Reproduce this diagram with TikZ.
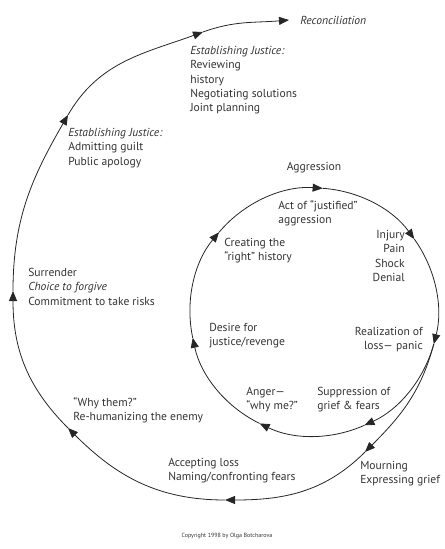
\documentclass[tikz,border=0pt]{standalone}
\usepackage{fontspec}
\setmainfont{PT Sans}
\usetikzlibrary{arrows.meta,positioning}
\tikzset{flow/.style={line width=0.6pt,draw=black!85,-{Triangle[length=7.5pt,width=6pt]}}}
\tikzset{lbl/.style={anchor=north west,inner sep=0pt,align=left,text=black!80,font=\fontsize{8.7}{10.7}\selectfont}}

\begin{document}
\begin{tikzpicture}[x=0.75pt,y=0.75pt]
\useasboundingbox (0,0) rectangle (444,-549);
% inner cycle
\coordinate (i1) at ([shift={(314,-312)}]86:124);
\coordinate (i2) at ([shift={(314,-312)}]36:124);
\coordinate (i3) at ([shift={(314,-312)}]-15:124);
\coordinate (i4) at ([shift={(314,-312)}]-66:124);
\coordinate (i5) at ([shift={(314,-312)}]-116:124);
\coordinate (i6) at ([shift={(314,-312)}]-168:124);
\coordinate (i7) at ([shift={(314,-312)}]140:124);
\draw[flow] (i1) to[bend left=25,looseness=0.9] (i2);
\draw[flow] (i2) to[bend left=25,looseness=0.9] (i3);
\draw[flow] (i3) to[bend left=25,looseness=0.9] (i4);
\draw[flow] (i4) to[bend left=25,looseness=0.9] (i5);
\draw[flow] (i5) to[bend left=26,looseness=0.9] (i6);
\draw[flow] (i6) to[bend left=26,looseness=0.9] (i7);
\draw[flow] (i7) to[bend left=27,looseness=0.9] (i1);
% outer spiral
\coordinate (s1) at (365,-452);
\coordinate (s2) at (225,-500);
\coordinate (s3) at (68,-428);
\coordinate (s4) at (13,-291);
\coordinate (s5) at (68,-115);
\coordinate (s6) at (203,-32);
\coordinate (s7) at (289,-20);
\draw[flow] (i3) to[out=-105,in=45] (s1);
\draw[flow] (s1) to[out=-135,in=0] (s2);
\draw[flow] (s2) to[out=180,in=-45] (s3);
\draw[flow] (s3) to[out=135,in=-90] (s4);
\draw[flow] (s4) to[out=90,in=-120] (s5);
\draw[flow] (s5) to[out=60,in=-160] (s6);
\draw[flow] (s6) to[out=20,in=185] (s7);
%
\node (rec) [lbl,anchor=west] at (300,-20) {\itshape Reconciliation};
\node (just2) [lbl] at (190,-46) {\itshape Establishing Justice:\\Reviewing\\history\\Negotiating solutions\\Joint planning};
\node (just1) [lbl] at (68,-128) {\itshape Establishing Justice:\\Admitting guilt\\Public apology};
\node (aggr) [lbl,anchor=center] at (314,-168) {Aggression};
\node (act) [lbl] at (278,-200) {Act of “justified”\\aggression};
\node (hist) [lbl] at (224,-238) {Creating the\\“right” history};
\node (injury) [lbl,anchor=north east,align=right] at (405,-230) {Injury\\Pain\\Shock\\Denial};
\node (surr) [lbl] at (28,-268) {Surrender\\\textit{Choice to forgive}\\Commitment to take risks};
\node (desire) [lbl] at (209,-323) {Desire for\\justice/revenge};
\node (real) [lbl,anchor=north east,align=right] at (423,-327) {Realization of\\loss— panic};
\node (anger) [lbl] at (246,-387) {Anger—\\“why me?”};
\node (supp) [lbl] at (317,-387) {Suppression of\\grief \& fears};
\node (them) [lbl] at (73,-397) {“Why them?”\\Re-humanizing the enemy};
\node (accept) [lbl] at (168,-458) {Accepting loss\\Naming/confronting fears};
\node (mourn) [lbl] at (360,-461) {Mourning\\Expressing grief};
\node (copy) [lbl,anchor=center,font=\fontsize{4.5}{5}\selectfont] at (227,-536) {Copyright 1998 by Olga Botcharova};
\end{tikzpicture}
\end{document}
